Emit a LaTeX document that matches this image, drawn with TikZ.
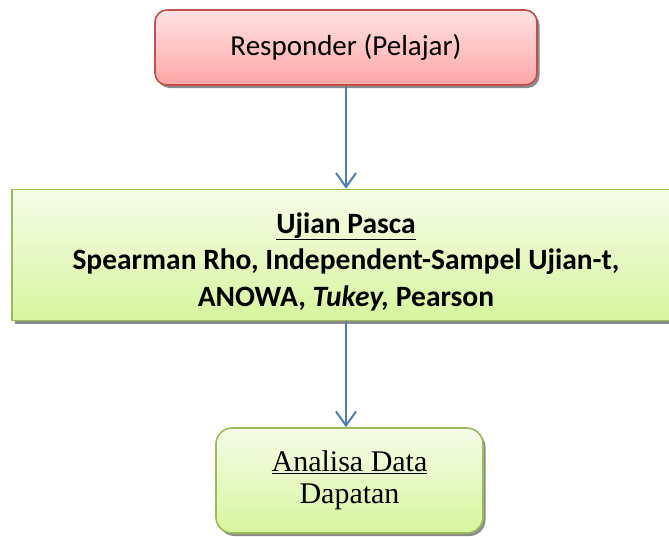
\documentclass[tikz,border=0pt]{standalone}
\usepackage{fontspec}
\setmainfont{Carlito}
\newfontfamily\serifdapat{Liberation Serif}
\usepackage{tikz}
\usetikzlibrary{arrows.meta,positioning,shadows}
\definecolor{merahB}{RGB}{192,80,77}
\definecolor{merahA}{RGB}{255,226,226}
\definecolor{merahZ}{RGB}{255,166,166}
\definecolor{hijauB}{RGB}{155,187,89}
\definecolor{hijauA}{RGB}{246,252,232}
\definecolor{hijauZ}{RGB}{214,246,158}
\definecolor{panahC}{RGB}{74,126,187}
\tikzset{
  kotak/.style={rectangle, line width=1.6pt, align=center, inner sep=0pt,
                drop shadow={shadow xshift=2.5pt, shadow yshift=-3pt, fill=black!45, opacity=1}},
  merah/.style={kotak, draw=merahB, top color=merahA, bottom color=merahZ},
  hijau/.style={kotak, draw=hijauB, top color=hijauA, bottom color=hijauZ},
  arr/.style={-{Straight Barb[length=14pt,width=20pt]}, line width=2pt, draw=panahC},
}

\begin{document}
\begin{tikzpicture}[x=1pt,y=1pt]
        \useasboundingbox (0,0) rectangle (669,-536);
        \clip (0,0) rectangle (669,-536);
        \node[merah, rounded corners=12pt, minimum width=382pt, minimum height=75pt,
              font=\fontsize{29}{35}\selectfont] (resp) at (346,-47.5)
          {\raisebox{2pt}{Responder (Pelajar)}};
        \node[hijau, minimum width=668pt, minimum height=131pt,
              font=\bfseries\fontsize{29.5}{36.5}\selectfont] (ujian) at (346,-255)
          {\rule{0pt}{34pt}\underline{Ujian Pasca}\\ Spearman Rho, Independent-Sampel Ujian-t,\\
           ANOWA, \textit{Tukey,} Pearson};
        \node[hijau, rounded corners=16pt, minimum width=267pt, minimum height=105pt,
              font=\serifdapat\fontsize{30}{32}\selectfont] (analisa) at (349.5,-480.5)
          {\underline{Analisa Data}\\ Dapatan};
        \draw[arr] (resp) -- (ujian);
        \draw[arr] (ujian) -- (ujian |- analisa.north);
      \end{tikzpicture}
\end{document}
